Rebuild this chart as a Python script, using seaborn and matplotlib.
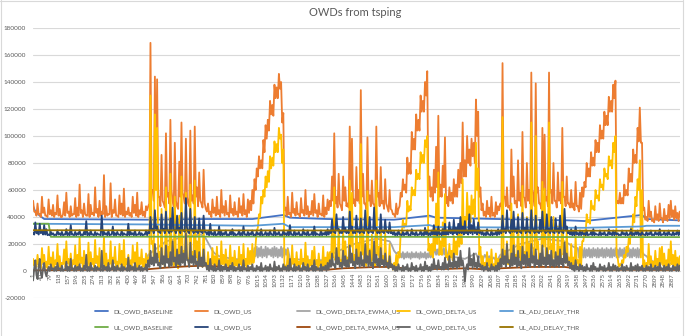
import numpy as np
import pandas as pd
import matplotlib
matplotlib.use("Agg")
import matplotlib.pyplot as plt
from matplotlib.lines import Line2D
import seaborn as sns

# ---------------- data (values in thousands of microseconds) ----------------
# Dense series: for every block of 10 samples the local peak (at sample 1, 11, 21, ...)
# and the local trough (at sample 6, 16, 26, ...).
PEAK_IDX = list(range(1, 2922, 10))
TROUGH_IDX = list(range(6, 2927, 10))

DL_OWD_US_PEAK = [
    52, 44, 50, 42, 55, 47, 41, 53, 45, 49, 43, 56, 46, 40, 51, 58, 44, 48, 42, 54,
    47, 64, 45, 50, 41, 57, 49, 43, 62, 46, 52, 44, 71, 48, 42, 65, 45, 53, 41, 56,
    50, 61, 44, 47, 43, 55, 49, 58, 45, 51, 44, 48,
    48, 169, 60, 144, 142, 55, 86, 50, 102, 58, 112, 52, 95, 48, 81, 110, 55, 98, 50, 104, 56, 107, 62, 73, 50, 75, 46,
    50, 44, 53, 47, 55, 45, 60, 48, 52, 43, 56, 46, 51, 44, 54, 48, 57, 45, 53, 52, 60,
    68, 76, 85, 82, 97, 108, 112, 126, 123, 138, 136, 146, 140, 117,
    47, 55, 43, 58, 46, 51, 42, 54, 45, 60, 48, 44, 52, 57, 45, 50, 42, 56, 47, 53,
    52, 70, 102, 55, 72, 48, 70, 62, 50, 107, 98, 53, 77, 60, 134, 72, 50, 99, 56, 67, 49, 107, 58, 77, 52, 68, 47, 60, 45,
    42, 50, 46,
    58, 68, 64, 84, 80, 103, 98, 116, 112, 130, 126, 140, 148, 70,
    62, 75, 92, 115, 64, 78, 99,
    55, 62, 58, 68, 64, 75, 80, 110, 82, 100, 90, 98, 95, 127, 118, 62,
    50, 44, 52, 47, 55, 43, 51, 48,
    50, 154, 55, 62, 48, 90, 70, 52, 82, 58, 103, 54, 80, 60, 147, 56, 139, 62, 50, 106, 101, 55, 147, 60, 80, 52, 73, 58, 106, 55, 70, 50,
    60, 50, 66, 48, 58, 62,
    66, 80, 76, 88, 84, 97, 95, 108, 104, 118, 115, 129, 126, 138, 141,
    52, 58, 54, 64, 60, 76, 72, 90, 86, 106, 121, 95,
    47, 40, 52, 44, 38, 48, 42, 50, 39, 46, 41, 49, 52, 45, 48, 43, 44,
]
DL_OWD_US_TROUGH = [
    44, 41, 42, 40, 43, 41, 40, 42, 41, 40, 42, 41, 40, 42, 41, 43, 40, 41, 42, 40,
    41, 43, 40, 42, 41, 40, 42, 41, 43, 40, 41, 42, 40, 41, 42, 40, 43, 41, 40, 42,
    41, 40, 42, 41, 40, 43, 41, 40, 42, 41, 40, 45,
    50, 60, 52, 70, 55, 48, 52, 47, 55, 50, 60, 48, 52, 46, 55, 58, 50, 55, 48, 52, 50, 55, 48, 52, 47, 50, 44,
    42, 40, 43, 41, 42, 40, 43, 41, 42, 40, 43, 41, 42, 40, 43, 41, 42, 40, 43, 45, 50,
    60, 70, 76, 76, 88, 98, 104, 116, 115, 128, 128, 135, 110, 45,
    41, 42, 40, 43, 41, 42, 40, 43, 41, 42, 40, 42, 41, 43, 40, 42, 41, 40, 42, 45,
    48, 52, 50, 47, 50, 45, 52, 48, 47, 60, 50, 48, 52, 50, 55, 50, 46, 52, 48, 50, 46, 55, 48, 50, 46, 50, 44, 46, 42,
    40, 42, 48,
    55, 60, 58, 72, 72, 90, 90, 104, 104, 118, 118, 130, 60, 55,
    52, 58, 62, 55, 55, 62, 50,
    48, 52, 50, 55, 55, 62, 65, 70, 70, 80, 78, 85, 80, 100, 55, 45,
    41, 40, 42, 40, 41, 40, 42, 45,
    48, 55, 48, 47, 45, 55, 50, 47, 52, 48, 55, 47, 52, 50, 60, 48, 58, 50, 46, 60, 52, 48, 58, 50, 52, 47, 52, 50, 55, 48, 50, 47,
    47, 45, 48, 44, 46, 55,
    62, 70, 70, 78, 78, 88, 88, 98, 98, 108, 108, 118, 118, 128, 50,
    50, 50, 50, 56, 56, 66, 66, 80, 80, 96, 95, 45,
    38, 37, 40, 37, 36, 38, 37, 39, 36, 38, 37, 39, 40, 38, 39, 37, 40,
]

DL_OWD_DELTA_US_PEAK = [
    9, 6, 12, 8, 17, 12, 7, 18, 10, 14, 8, 20, 11, 6, 16, 22, 9, 13, 8, 19,
    12, 25, 10, 15, 7, 21, 14, 9, 23, 11, 17, 9, 25, 13, 8, 22, 10, 18, 7, 20,
    15, 23, 9, 12, 8, 19, 14, 21, 10, 16, 9, 13,
    10, 130, 22, 116, 106, 14, 46, 8, 62, 18, 72, 10, 55, 6, 41, 70, 15, 58, 9, 64, 14, 67, 22, 33, 8, 35, 6,
    14, 8, 17, 11, 18, 9, 22, 12, 16, 8, 19, 10, 15, 8, 18, 12, 20, 9, 17, 15, 20,
    10, 30, 42, 55, 60, 70, 74, 85, 84, 96, 94, 106, 101, 90,
    4, 16, 8, 19, 9, 14, 7, 16, 9, 21, 11, 8, 15, 18, 8, 13, 7, 18, 10, 14,
    14, 32, 62, 15, 33, 8, 30, 22, 10, 67, 58, 12, 37, 20, 94, 32, 9, 59, 16, 27, 8, 67, 18, 37, 11, 28, 6, 20, 5,
    6, 12, 14,
    28, 38, 35, 52, 48, 62, 60, 75, 72, 88, 86, 97, 100, 20,
    20, 33, 50, 73, 22, 36, 57,
    12, 20, 15, 26, 22, 33, 38, 68, 40, 58, 48, 56, 53, 95, 76, 18,
    11, 6, 14, 9, 16, 5, 13, 9,
    10, 114, 15, 22, 8, 50, 30, 12, 42, 18, 63, 14, 40, 20, 110, 16, 100, 22, 10, 66, 61, 15, 110, 20, 40, 12, 33, 18, 66, 15, 30, 10,
    20, 10, 26, 8, 18, 22,
    30, 42, 38, 52, 48, 60, 56, 68, 64, 76, 72, 85, 82, 95, 100,
    10, 5, 8, 12, 18, 24, 32, 42, 55, 68, 82, 60,
    8, 6, 20, 11, 7, 15, 9, 17, 18, 13, 8, 16, 22, 12, 15, 10, 11,
]
DL_OWD_DELTA_US_TROUGH = [
    4, 3, 5, 2, 6, 3, 2, 5, 3, 2, 5, 3, 2, 5, 3, 6, 2, 3, 5, 2,
    3, 6, 2, 5, 3, 2, 5, 3, 6, 2, 3, 5, 2, 3, 5, 2, 6, 3, 2, 5,
    3, 2, 5, 3, 2, 6, 3, 2, 5, 3, 2, 6,
    6, 20, 10, 60, 10, 5, 6, 3, 10, 6, 12, 4, 8, 2, 10, 12, 6, 10, 4, 8, 6, 10, 5, 8, 3, 6, 2,
    4, 2, 5, 3, 4, 2, 5, 3, 4, 2, 5, 3, 4, 2, 5, 3, 4, 2, 5, 5, 6,
    20, 32, 40, 50, 55, 62, 66, 76, 78, 88, 88, 98, 80, 2,
    1, 4, 2, 5, 3, 4, 2, 5, 3, 4, 2, 4, 3, 5, 2, 4, 3, 2, 4, 5,
    6, 10, 8, 5, 8, 3, 10, 6, 5, 18, 8, 6, 10, 8, 12, 8, 4, 10, 6, 8, 4, 12, 6, 8, 4, 8, 2, 4, 1,
    2, 4, 10,
    28, 32, 34, 44, 45, 56, 56, 68, 68, 80, 80, 92, 15, 12,
    10, 15, 20, 12, 12, 18, 10,
    8, 10, 8, 12, 12, 18, 20, 28, 28, 38, 36, 42, 40, 60, 12, 4,
    3, 2, 4, 2, 3, 2, 4, 4,
    6, 12, 6, 5, 4, 12, 8, 5, 10, 6, 12, 5, 10, 8, 18, 6, 16, 8, 4, 18, 10, 6, 16, 8, 10, 5, 10, 8, 12, 6, 8, 4,
    5, 3, 6, 2, 4, 22,
    26, 36, 35, 46, 45, 54, 52, 62, 60, 70, 68, 78, 76, 88, 12,
    3, 4, 6, 10, 14, 20, 26, 36, 48, 60, 10, 2,
    3, 2, 5, 3, 2, 4, 3, 5, 4, 3, 2, 4, 5, 3, 4, 2, 5,
]

UL_OWD_US_PEAK = [
    28, 36, 29, 35, 30, 34, 31, 27, 29, 28, 27, 30, 28, 29, 27, 31, 28, 34, 27, 29,
    28, 30, 27, 29, 37, 28, 30, 27, 29, 28, 27, 41, 29, 28, 30, 27, 33, 28, 29, 27,
    30, 28, 27, 35, 29, 28, 30, 27, 29, 28, 27, 30,
    29, 40, 31, 45, 33, 29, 42, 31, 44, 30, 39, 47, 30, 41, 32, 43, 30, 54, 29, 46, 31, 40, 29, 39, 30, 41, 29,
    29, 35, 28, 30, 27, 33, 29, 28, 30, 27, 29, 31, 28, 27, 30, 28, 33, 27, 29, 28, 30,
    27, 29, 28, 31, 27, 29, 28, 30, 27, 32, 28, 29, 27, 30,
    28, 29, 34, 27, 30, 28, 29, 27, 31, 28, 30, 27, 29, 33, 28, 27, 30, 28, 29, 31,
    30, 38, 29, 42, 31, 29, 40, 32, 30, 44, 33, 29, 41, 31, 39, 29, 45, 31, 40, 29, 47, 32, 30, 42, 29, 38, 29, 36, 29,
    29, 28, 30,
    27, 29, 28, 30, 27, 31, 28, 29, 27, 30, 28, 32, 29, 28,
    30, 34, 29, 33, 28, 31, 35,
    30, 36, 31, 38, 32, 35, 40, 33, 37, 30, 42, 34, 38, 31, 36, 30,
    29, 28, 31, 27, 30, 28, 29, 31,
    30, 41, 31, 45, 29, 38, 44, 31, 40, 29, 43, 32, 39, 30, 45, 31, 41, 29, 38, 44, 30, 42, 31, 40, 29, 39, 31, 41, 30, 46, 33, 29,
    31, 29, 33, 28, 30, 29,
    28, 30, 27, 29, 31, 28, 27, 30, 28, 29, 27, 31, 28, 30, 29,
    28, 27, 30, 28, 29, 27, 31, 28, 29, 30, 28, 29,
    27, 29, 28, 30, 27, 29, 28, 31, 27, 29, 28, 30, 27, 29, 28, 30, 29,
]
UL_OWD_US_TROUGH = [
    27, 28, 27, 28, 27, 27, 26.5, 26.5, 27, 26.5, 26.5, 27, 26.5, 26.5, 27, 26.5, 26.5, 27, 26.5, 26.5,
    27, 26.5, 26.5, 27, 26.5, 26.5, 27, 26.5, 26.5, 27, 26.5, 26.5, 27, 26.5, 26.5, 27, 26.5, 26.5, 27, 26.5,
    26.5, 27, 26.5, 26.5, 27, 26.5, 26.5, 27, 26.5, 26.5, 27, 26.5,
    28, 30, 28, 31, 29, 28, 30, 28, 30, 28, 29, 31, 28, 30, 28, 30, 29, 32, 28, 30, 28, 29, 28, 29, 28, 29, 27,
    26.5, 27, 26.5, 26.5, 27, 26.5, 26.5, 27, 26.5, 26.5, 27, 26.5, 26.5, 27, 26.5, 26.5, 27, 26.5, 26.5, 27, 26.5,
    26.5, 27, 26.5, 26.5, 27, 26.5, 26.5, 27, 26.5, 26.5, 27, 26.5, 26.5, 27,
    26.5, 26.5, 27, 26.5, 26.5, 27, 26.5, 26.5, 27, 26.5, 26.5, 27, 26.5, 26.5, 27, 26.5, 26.5, 27, 26.5, 27,
    28, 29, 28, 30, 28, 28, 29, 28, 28, 30, 28, 28, 29, 28, 29, 28, 30, 28, 29, 28, 30, 28, 28, 29, 28, 29, 28, 28, 27,
    26.5, 26.5, 27,
    26.5, 26.5, 27, 26.5, 26.5, 27, 26.5, 26.5, 27, 26.5, 26.5, 27, 26.5, 26.5,
    27, 27, 26.5, 27, 26.5, 27, 27,
    27, 28, 27, 28, 27, 28, 28, 27, 28, 27, 28, 27, 28, 27, 28, 27,
    26.5, 26.5, 27, 26.5, 26.5, 27, 26.5, 27,
    28, 29, 28, 30, 28, 29, 29, 28, 29, 28, 30, 28, 29, 28, 30, 28, 29, 28, 29, 30, 28, 29, 28, 29, 28, 29, 28, 29, 28, 30, 28, 27,
    26.5, 26.5, 27, 26.5, 26.5, 27,
    26.5, 26.5, 27, 26.5, 26.5, 27, 26.5, 26.5, 27, 26.5, 26.5, 27, 26.5, 26.5, 27,
    26.5, 26.5, 27, 26.5, 26.5, 27, 26.5, 26.5, 27, 26.5, 26.5, 27,
    26.5, 26.5, 27, 26.5, 26.5, 27, 26.5, 26.5, 27, 26.5, 26.5, 27, 26.5, 26.5, 27, 26.5, 26.5,
]

UL_OWD_DELTA_US_PEAK = [
    -7, 8, -6, 9, -5, 6, -4, 3, 5, 2, 3, 6, 2, 4, 1, 7, 3, 9, 2, 4,
    3, 5, 2, 4, 12, 3, 6, 2, 4, 3, 2, 15, 4, 3, 6, 2, 8, 3, 4, 2,
    5, 3, 2, 10, 4, 3, 6, 2, 4, 3, 2, 5,
    8, 15, 10, 20, 13, 6, 17, 11, 19, 9, 14, 22, 10, 16, 12, 18, 13, 28, 8, 21, 11, 15, 7, 14, 10, 16, 6,
    4, 9, 3, 5, 2, 8, 4, 3, 5, 2, 4, 6, 3, 2, 5, 3, 8, 2, 4, 3, 5,
    2, 4, 3, 6, 2, 4, 3, 5, 2, 7, 3, 4, 2, 5,
    3, 4, 9, 2, 5, 3, 4, 2, 6, 3, 5, 2, 4, 8, 3, 2, 5, 3, 4, 6,
    8, 13, 5, 17, 10, 6, 15, 11, 8, 19, 13, 7, 16, 10, 14, 8, 20, 11, 15, 6, 22, 12, 9, 17, 8, 13, 6, 11, 5,
    4, 3, 5,
    2, 4, 3, 5, 2, 6, 3, 4, 2, 5, 3, 7, 4, 3,
    5, 9, 4, 8, 3, 6, 10,
    5, 11, 6, 13, 7, 10, 15, 8, -8, 5, 17, 9, 13, 6, 11, 5,
    4, 3, 6, 2, 5, 3, 4, 6,
    9, 16, 11, 20, 8, 13, 19, 10, 15, 7, 18, 12, 14, 9, 20, 11, 16, 8, 13, 19, 10, 17, 12, 15, 8, 14, 11, 16, 9, 21, 13, 7,
    6, 4, 8, 3, 5, 4,
    3, 5, 2, 4, 6, 3, 2, 5, 3, 4, 2, 6, 3, 5, 4,
    3, 2, 5, 3, 4, 2, 6, 3, 4, 5, 3, 4,
    2, 4, 3, 5, 2, 4, 3, 6, 2, 4, 3, 5, 2, 4, 3, 5, 4,
]
UL_OWD_DELTA_US_TROUGH = [
    2, -3, 3, -2, 2, -1, 0, 0, 1, 0, 0, 1, 0, 0, 1, 0, 0, 1, 0, 0,
    1, 0, 0, 1, 0, 0, 1, 0, 0, 1, 0, 0, 1, 0, 0, 1, 0, 0, 1, 0,
    0, 1, 0, 0, 1, 0, 0, 1, 0, 0, 1, 0,
    3, 5, 4, 6, 4, 2, 5, 3, 6, 3, 4, 7, 3, 5, 4, 6, 4, 8, 3, 6, 4, 5, 2, 4, 3, 4, 1,
    0, 1, 0, 0, 1, 0, 0, 1, 0, 0, 1, 0, 0, 1, 0, 0, 1, 0, 0, 1, 0,
    0, 1, 0, 0, 1, 0, 0, 1, 0, 0, 1, 0, 0, 1,
    0, 0, 1, 0, 0, 1, 0, 0, 1, 0, 0, 1, 0, 0, 1, 0, 0, 1, 0, 1,
    3, 4, 2, 5, 3, 2, 4, 3, 3, 6, 4, 2, 5, 3, 4, 3, 6, 3, 4, 2, 6, 4, 3, 5, 3, 4, 2, 3, 1,
    0, 0, 1,
    0, 0, 1, 0, 0, 1, 0, 0, 1, 0, 0, 1, 0, 0,
    1, 2, 1, 2, 1, 1, 2,
    1, 3, 2, 3, 2, 3, 4, 2, 2, 1, 4, 2, 3, 2, 3, 1,
    0, 1, 0, 0, 1, 0, 0, 1,
    3, 5, 3, 6, 3, 4, 5, 3, 4, 2, 5, 3, 4, 3, 6, 3, 5, 3, 4, 5, 3, 5, 3, 4, 3, 4, 3, 5, 3, 6, 4, 2,
    1, 0, 1, 0, 1, 0,
    0, 1, 0, 0, 1, 0, 0, 1, 0, 0, 1, 0, 0, 1, 0,
    0, 1, 0, 0, 1, 0, 0, 1, 0, 0, 1, 0,
    0, 1, 0, 0, 1, 0, 0, 1, 0, 0, 1, 0, 0, 1, 0, 0, 1,
]

# slowly varying series, given at their sample indices
DL_OWD_BASELINE_IDX = [1, 11, 31, 51, 511, 781, 991, 1131, 1161, 1331, 1631, 1661, 1791, 1821, 2101, 2421, 2491, 2751, 2771, 2921]
DL_OWD_BASELINE = [48, 44, 41, 38.5, 38, 38.5, 38.5, 41.5, 39.5, 38.5, 38, 38.5, 41, 39.5, 38.5, 37.5, 37, 41.5, 38.5, 37.5]

DL_ADJ_DELAY_THR_IDX = [1, 511, 991, 1131, 1161, 1631, 1791, 1821, 2491, 2751, 2771, 2921]
DL_ADJ_DELAY_THR = [35, 34.5, 33.5, 35, 32.5, 32.5, 34, 32.5, 32, 33, 33.5, 33.5]

UL_OWD_BASELINE_IDX = [1, 71, 81, 1001, 2001, 2921]
UL_OWD_BASELINE = [35, 35, 25.3, 25.5, 25.2, 25.1]

UL_ADJ_DELAY_THR_IDX = [1, 2921]
UL_ADJ_DELAY_THR = [30.2, 29.8]

UL_EWMA_IDX = [1, 301, 511, 601, 701, 781, 851, 951, 1331, 1401, 1551, 1621, 1701, 1861, 1951, 2051, 2111, 2251, 2401, 2481, 2601, 2921]
UL_OWD_DELTA_EWMA_US = [0.5, 1, 1.2, 2.5, 3.5, 4, 3, 1.5, 1, 2, 3, 3, 1.5, 1.5, 2, 1.2, 2, 3, 3, 1.5, 1, 0.8]

DL_EWMA_ANCHOR_IDX = [1, 201, 401, 511, 521, 601, 701, 761, 781, 791, 801, 811, 821, 841, 901, 991,
                      1161, 1251, 1331, 1341, 1451, 1551, 1611, 1621, 1631, 1641,
                      1881, 1951, 2001, 2011, 2021, 2031, 2041, 2051, 2061, 2071, 2081, 2091, 2101,
                      2111, 2201, 2301, 2401, 2411, 2421, 2431, 2441, 2451,
                      2751, 2761, 2771, 2781, 2801, 2921]
DL_EWMA_ANCHOR = [5, 6, 6, 7, 12, 22, 26, 27, 24, 21, 18, 15, 13, 11, 9, 8,
                  9, 8, 8, 12, 20, 24, 22, 19, 15, 13,
                  11, 9, 13, 9, 12, 8, 12, 9, 11, 8, 10, 8, 9,
                  12, 20, 24, 22, 21, 20, 19, 18, 17,
                  14, 12, 11, 9, 7, 5]
# stretches where the EWMA flickers (every 5th sample): (first sample index, values)
DL_EWMA_BANDS = [
    (1001, [17, 11, 18, 10, 17, 11, 18, 10, 16, 11, 18, 10, 17, 12, 16, 11, 17, 10, 18, 11,
            17, 10, 16, 11, 18, 10, 17, 11, 16, 12, 17]),
    (1651, [14, 10, 13, 10, 14, 9, 13, 10, 14, 10, 13, 9, 14, 10, 13, 10, 14, 10, 13, 9,
            14, 10, 13, 10, 14, 9, 13, 10, 14, 10, 13, 10, 14,
            17, 12, 16, 12, 17, 13, 16, 12, 17, 12, 16, 13]),
    (2461, [17, 10, 17, 11, 16, 10, 17, 10, 16, 11, 17, 10, 16, 10, 17, 11, 16, 10, 17, 10,
            16, 11, 17, 10, 16, 10, 17, 11, 16, 10, 17, 10, 16, 11, 17, 10, 16, 10, 17, 11,
            16, 10, 17, 10, 16, 11, 17, 10, 16, 10, 17, 11, 16, 10, 17, 10, 16]),
]

SERIES = ["DL_OWD_BASELINE", "DL_OWD_US", "DL_OWD_DELTA_EWMA_US", "DL_OWD_DELTA_US", "DL_ADJ_DELAY_THR",
          "UL_OWD_BASELINE", "UL_OWD_US", "UL_OWD_DELTA_EWMA_US", "UL_OWD_DELTA_US", "UL_ADJ_DELAY_THR"]
COLORS = ["#4472C4", "#ED7D31", "#A5A5A5", "#FFC000", "#5B9BD5",
          "#70AD47", "#264478", "#9E480E", "#636363", "#997300"]
N_SAMPLES = 2922
XTICKS = list(range(1, N_SAMPLES, 39))
YTICKS = list(range(-20000, 180001, 20000))


# ---------------- build long table ----------------
def interleave(peaks, troughs):
    xs, ys = [], []
    for i in range(len(PEAK_IDX)):
        xs += [PEAK_IDX[i], TROUGH_IDX[i]]
        ys += [peaks[i], troughs[i]]
    return xs, ys


ew_idx = list(DL_EWMA_ANCHOR_IDX)
ew_val = list(DL_EWMA_ANCHOR)
for start, vals in DL_EWMA_BANDS:
    ew_idx += [start + 5 * i for i in range(len(vals))]
    ew_val += vals
order = np.argsort(ew_idx)
ew_idx = [ew_idx[i] for i in order]
ew_val = [ew_val[i] for i in order]

parts = {
    "DL_OWD_BASELINE": (DL_OWD_BASELINE_IDX, DL_OWD_BASELINE),
    "DL_OWD_US": interleave(DL_OWD_US_PEAK, DL_OWD_US_TROUGH),
    "DL_OWD_DELTA_EWMA_US": (ew_idx, ew_val),
    "DL_OWD_DELTA_US": interleave(DL_OWD_DELTA_US_PEAK, DL_OWD_DELTA_US_TROUGH),
    "DL_ADJ_DELAY_THR": (DL_ADJ_DELAY_THR_IDX, DL_ADJ_DELAY_THR),
    "UL_OWD_BASELINE": (UL_OWD_BASELINE_IDX, UL_OWD_BASELINE),
    "UL_OWD_US": interleave(UL_OWD_US_PEAK, UL_OWD_US_TROUGH),
    "UL_OWD_DELTA_EWMA_US": (UL_EWMA_IDX, UL_OWD_DELTA_EWMA_US),
    "UL_OWD_DELTA_US": interleave(UL_OWD_DELTA_US_PEAK, UL_OWD_DELTA_US_TROUGH),
    "UL_ADJ_DELAY_THR": (UL_ADJ_DELAY_THR_IDX, UL_ADJ_DELAY_THR),
}
frames = []
for name in SERIES:
    xi, yv = parts[name]
    frames.append(pd.DataFrame({"idx": xi, "value": np.array(yv, dtype=float) * 1000, "series": name}))
df = pd.concat(frames, ignore_index=True)

# ---------------- plot ----------------
sns.set_theme(style="white")
plt.rcParams["font.family"] = ["Lato", "DejaVu Sans"]

W, H = 690, 336
fig = plt.figure(figsize=(W / 100, H / 100), dpi=100)
fig.patch.set_facecolor("white")
ax = fig.add_axes([33 / W, 38 / H, (680 - 33) / W, (308 - 38) / H])

sns.lineplot(data=df, x="idx", y="value", hue="series", hue_order=SERIES,
             palette=dict(zip(SERIES, COLORS)), estimator=None, sort=False,
             legend=False, linewidth=1.3, ax=ax, solid_joinstyle="round")

ax.set_xlim(0.5, N_SAMPLES + 0.5)
ax.set_ylim(-20000, 180000)
ax.set_xlabel("")
ax.set_ylabel("")
ax.yaxis.grid(True, color="#D9D9D9", linewidth=0.8)
ax.xaxis.grid(False)
ax.set_axisbelow(True)
for s in ["top", "right", "left"]:
    ax.spines[s].set_visible(False)
ax.spines["bottom"].set_position(("data", 0))
ax.spines["bottom"].set_color("#D9D9D9")
ax.spines["bottom"].set_linewidth(0.8)
ax.spines["bottom"].set_zorder(0.5)

ax.set_yticks(YTICKS)
ax.set_yticklabels([str(v) for v in YTICKS])
ax.set_xticks(XTICKS)
ax.set_xticklabels([str(v) for v in XTICKS])
ax.tick_params(axis="x", length=0, pad=1.5, labelsize=4.3, labelcolor="#595959", labelrotation=90)
ax.tick_params(axis="y", length=0, pad=5, labelsize=4.6, labelcolor="#595959")

fig.text(355 / W, 1 - 12 / H, "OWDs from tsping", ha="center", va="center",
         fontsize=8, color="#595959")

# legend: 5 columns, DL row on top, UL row below
col_x = [95, 195, 297, 397, 500]
for c in range(5):
    hs = [Line2D([], [], color=COLORS[c], lw=1.3), Line2D([], [], color=COLORS[c + 5], lw=1.3)]
    fig.legend(hs, [SERIES[c], SERIES[c + 5]], loc="upper left",
               bbox_to_anchor=(col_x[c] / W, 1 - 309 / H), frameon=False,
               fontsize=4.6, labelcolor="#595959", handlelength=2.1, handletextpad=0.8,
               borderpad=0, borderaxespad=0, labelspacing=1.55)

# chart border (top, left, right)
bc = "#D9D9D9"
fig.add_artist(Line2D([0.5 / W, 0.5 / W], [0, 1], transform=fig.transFigure, color=bc, lw=0.8))
fig.add_artist(Line2D([0, 682.5 / W], [1 - 0.5 / H, 1 - 0.5 / H], transform=fig.transFigure, color=bc, lw=0.8))
fig.add_artist(Line2D([682.5 / W, 682.5 / W], [0, 1], transform=fig.transFigure, color=bc, lw=0.8))

fig.savefig("out.png", dpi=100)
